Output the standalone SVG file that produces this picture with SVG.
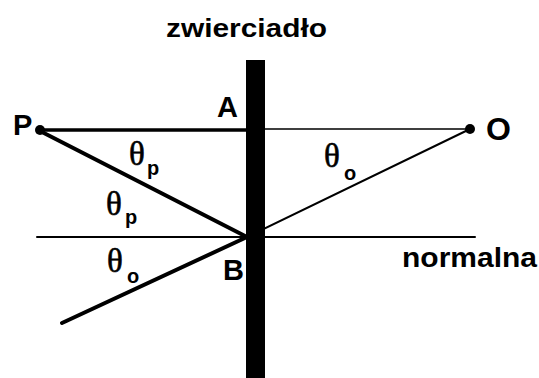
<svg xmlns="http://www.w3.org/2000/svg" width="539" height="378" viewBox="0 0 539 378">
<style>
.lbl{font-family:"Liberation Sans",Arial,sans-serif;font-weight:bold;fill:#000}
.th{font-family:"Liberation Serif","Times New Roman",serif;font-size:33px;fill:#000;stroke:#000;stroke-width:0.6}
.sub{font-family:"Liberation Sans",Arial,sans-serif;font-weight:bold;font-size:20px;fill:#000}
.ln{stroke:#000;fill:none;stroke-linecap:round}
</style>
<rect width="539" height="378" fill="#fff"/>
<g id="connectors">
<line class="ln" x1="37" y1="237" x2="475" y2="237" stroke-width="2"/>
<line class="ln" x1="265" y1="129" x2="470" y2="129" stroke-width="1.5"/>
<line class="ln" x1="470" y1="129" x2="247" y2="237" stroke-width="2"/>
<line class="ln" x1="40" y1="130" x2="246" y2="130" stroke-width="3.5"/>
<line class="ln" x1="40" y1="131" x2="247" y2="237" stroke-width="4"/>
<line class="ln" x1="247" y1="237" x2="62" y2="323" stroke-width="4"/>
</g>
<g id="mirror">
<rect x="246" y="60" width="19" height="318" fill="#000"/>
<text class="lbl" x="166" y="37" font-size="26" textLength="161" lengthAdjust="spacingAndGlyphs">zwierciadło</text>
</g>
<g id="P">
<circle cx="40" cy="130" r="5" fill="#000"/>
<text class="lbl" x="13" y="135" font-size="29">P</text>
</g>
<g id="O">
<circle cx="470" cy="129" r="5" fill="#000"/>
<text class="lbl" x="486" y="140" font-size="32">O</text>
</g>
<g id="A"><text class="lbl" x="217" y="117" font-size="29">A</text></g>
<g id="B"><text class="lbl" x="223" y="280" font-size="29">B</text></g>
<g id="normal"><text class="lbl" x="402" y="267" font-size="27" textLength="135" lengthAdjust="spacingAndGlyphs">normalna</text></g>
<g id="angles">
<text class="th" x="129" y="165">θ</text><text class="sub" x="147" y="175">p</text>
<text class="th" x="106" y="215">θ</text><text class="sub" x="125" y="224">p</text>
<text class="th" x="324" y="167">θ</text><text class="sub" x="344" y="180">o</text>
<text class="th" x="107" y="272">θ</text><text class="sub" x="127" y="283">o</text>
</g>
</svg>
